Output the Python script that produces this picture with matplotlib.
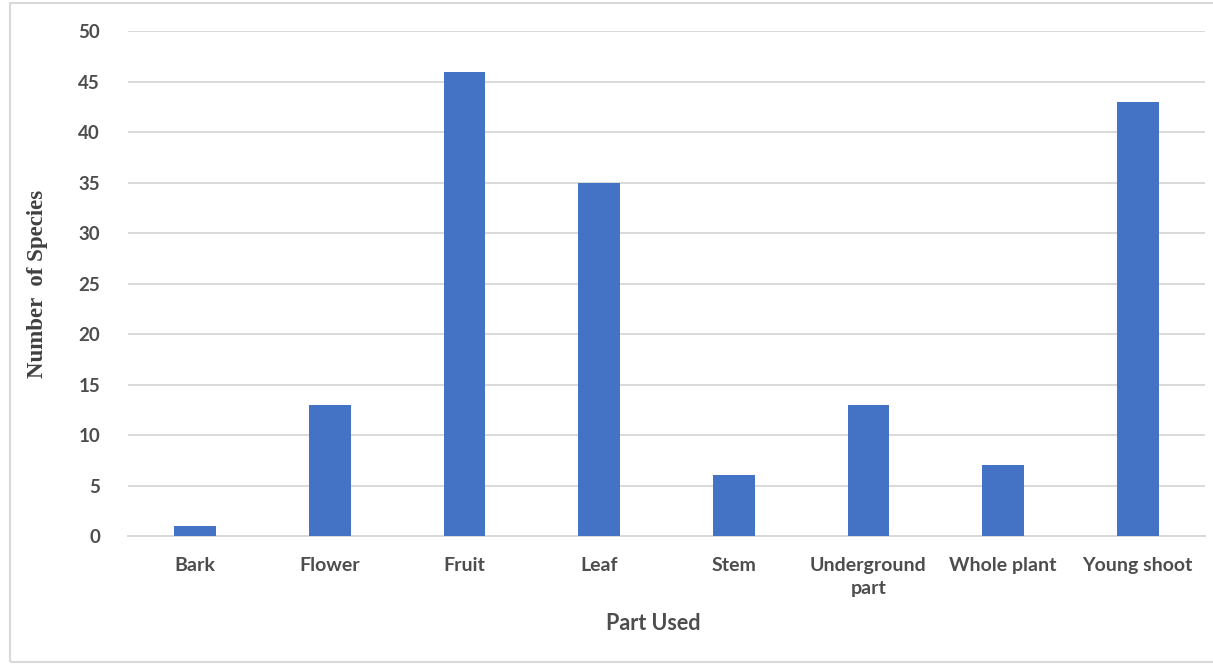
import matplotlib.pyplot as plt
from matplotlib.patches import Rectangle

parts = ["Bark", "Flower", "Fruit", "Leaf", "Stem",
         "Underground\npart", "Whole plant", "Young shoot"]
species_counts = [1, 13, 46, 35, 6, 13, 7, 43]
y_ticks = [0, 5, 10, 15, 20, 25, 30, 35, 40, 45, 50]

bar_color = "#4472C4"
grid_color = "#D9D9D9"
text_color = "#4D4D4D"

fig = plt.figure(figsize=(12.13, 6.65), dpi=100)
ax = fig.add_axes([0.1055, 0.194, 0.8879, 0.759])

x = range(len(parts))
ax.bar(x, species_counts, width=0.31, color=bar_color, zorder=3)

ax.set_xlim(-0.5, len(parts) - 0.5)
ax.set_ylim(0, 50)
ax.set_yticks(y_ticks)
ax.set_xticks(list(x))
ax.set_xticklabels(parts, fontfamily="Lato", fontweight="bold",
                   fontsize=14, color=text_color, linespacing=1.45)
for lbl in ax.get_yticklabels():
    lbl.set_fontfamily("Lato")
    lbl.set_fontweight("bold")
    lbl.set_fontsize(13.5)
    lbl.set_color(text_color)

ax.grid(axis="y", color=grid_color, linewidth=1.4, zorder=0)
ax.tick_params(axis="both", length=0)
ax.tick_params(axis="y", pad=20)
ax.tick_params(axis="x", pad=15)
for side in ["top", "right", "left"]:
    ax.spines[side].set_visible(False)
ax.spines["bottom"].set_color(grid_color)
ax.spines["bottom"].set_linewidth(1.4)

ax.set_xlabel("Part Used", fontfamily="Lato", fontweight="bold",
              fontsize=15.5, color=text_color)
ax.xaxis.set_label_coords(0.488, -0.152)
ax.set_ylabel("Number  of Species", fontfamily="Liberation Serif",
              fontweight="bold", fontsize=16.5, color="#404040")
ax.yaxis.set_label_coords(-0.074, 0.5)

# thin frame around the chart area
fig.patches.append(Rectangle((10 / 1213, 3 / 665), 1.0, 1 - 6 / 665,
                             transform=fig.transFigure, fill=False,
                             edgecolor="#D9D9D9", linewidth=1.5))

fig.savefig("out.png", dpi=100)
plt.close(fig)
